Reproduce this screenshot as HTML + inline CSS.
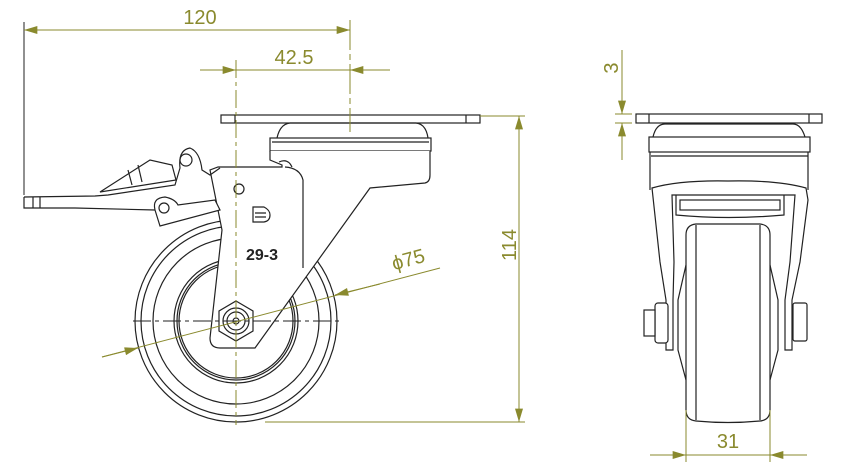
<!DOCTYPE html>
<html><head><meta charset="utf-8"><style>
html,body{margin:0;padding:0;background:#fff;}
svg{display:block;}
text{font-family:"Liberation Sans",sans-serif;fill:#8a8a2e;}
</style></head><body>
<svg width="858" height="470" viewBox="0 0 858 470" xmlns="http://www.w3.org/2000/svg">
<defs>
<marker id="a" viewBox="0 0 10 6" refX="10" refY="3" markerWidth="16" markerHeight="8" orient="auto-start-reverse" markerUnits="userSpaceOnUse"><path d="M0,0 L10,3 L0,6 z" fill="#8a8a2e"/></marker>
</defs>
<g stroke="#222" stroke-width="1.2" fill="none">
<!-- LEFT VIEW -->
<rect x="221" y="115" width="259" height="8"/>
<line x1="235" y1="115" x2="235" y2="123"/><line x1="466" y1="115" x2="466" y2="123"/>
<path d="M277,138 Q280,124 290,123 L416,123 Q426,124 428,138"/>
<rect x="270" y="138" width="161" height="13"/>
<line x1="272" y1="142" x2="429" y2="142"/>
<!-- wheel -->
<circle cx="236" cy="321" r="101"/>
<circle cx="236" cy="321" r="95"/>
<circle cx="236" cy="321" r="83"/>
<circle cx="236" cy="321" r="62"/>
<circle cx="236" cy="321" r="59"/>
<circle cx="236" cy="321" r="57"/>
<!-- bracket -->
<path d="M270,151 L270,160 L282,165 L282,167 L218,167 L210,170 L222,230 L210,338 Q210,348 220,348 L255,348 L370,188 L425,183 Q430,182 430,175 L430,151" fill="#fff"/>
<path d="M285,167 Q300,168 303,180 L303,268"/>
<path d="M279,162 Q288,158 292,167"/>
<!-- hex nut -->
<polygon points="236,301 253,311 253,331 236,341 219,331 219,311" fill="#fff"/>
<circle cx="236" cy="321" r="13"/>
<circle cx="236" cy="321" r="9"/>
<circle cx="236" cy="321" r="3"/>
<circle cx="239" cy="189" r="5"/>
<!-- brake -->
<path d="M24,197 L95,196 L108,195 L175,185 L180,168 Q178,150 190,148 Q200,152 202,170 L210,175 L220,168"/>
<path d="M24,197 L24,208 L75,208 L155,210"/>
<line x1="33" y1="197" x2="33" y2="208"/><line x1="40" y1="197" x2="40" y2="208"/>
<path d="M100,192 L150,160 L172,165 L176,180 Z" fill="#fff"/>
<line x1="128" y1="170" x2="132" y2="185"/><line x1="138" y1="165" x2="142" y2="182"/>
<circle cx="186" cy="160" r="6"/>
<path d="M155,210 Q152,198 165,197 Q175,199 178,205 L215,200 L220,210 L160,226 Z" fill="#fff"/>
<circle cx="164" cy="208" r="5"/>
<!-- logo -->
<path d="M253,207 L264,207 Q270,210 270,215 Q270,221 264,222 L253,222 Z M255,213 L266,213 M255,217 L266,217"/>
<!-- RIGHT VIEW -->
<rect x="636" y="114" width="186" height="9"/>
<line x1="649" y1="114" x2="649" y2="123"/><line x1="809" y1="114" x2="809" y2="123"/>
<path d="M653,137 Q656,124 665,124 L793,124 Q801,124 805,137"/>
<rect x="649" y="137" width="161" height="15"/>
<line x1="651" y1="156" x2="808" y2="156"/>
<line x1="650" y1="152" x2="650" y2="190"/><line x1="808" y1="152" x2="808" y2="190"/>
<path d="M652,188 Q680,180 728,181 Q778,180 806,188 L808,200 L800,262 L792,300 L792,350 L785,350 L785,300 L790,262 L795,195 L672,195 L674,262 L673,300 L673,350 L666,350 L666,300 L660,262 Z" fill="#fff"/>
<path d="M676,195 L676,215 Q728,220 784,215 L784,195"/>
<rect x="680" y="200" width="100" height="10"/>
<path d="M686,235 Q686,225 696,224 L760,224 Q770,225 770,235 L770,410 Q770,420 760,421 Q728,424 696,421 Q686,420 686,410 Z" fill="#fff"/>
<line x1="696" y1="225" x2="696" y2="420"/><line x1="760" y1="225" x2="760" y2="420"/>
<path d="M686,265 L678,300 L678,350 L686,380"/><path d="M770,265 L778,300 L778,350 L770,380"/>
<rect x="655" y="303" width="13" height="40" rx="3" fill="#fff"/>
<rect x="644" y="310" width="11" height="26" fill="#fff"/>
<rect x="793" y="303" width="14" height="38" rx="2" fill="#fff"/>
</g>
<!-- centerlines -->
<g stroke="#8a8a2e" stroke-width="1" fill="none">
<line x1="236" y1="60" x2="236" y2="425" stroke-dasharray="18,4,4,4"/>
<line x1="350" y1="20" x2="350" y2="132" stroke-dasharray="30,4,6,4"/>
<line x1="133" y1="321" x2="340" y2="321" stroke="#222" stroke-dasharray="18,4,4,4"/>
<!-- 120 -->
<line x1="24" y1="22" x2="24" y2="195" stroke="#222"/>
<line x1="24" y1="30" x2="350" y2="30" marker-start="url(#a)" marker-end="url(#a)"/>
<!-- 42.5 -->
<line x1="200" y1="70" x2="236" y2="70" marker-end="url(#a)"/>
<line x1="390" y1="70" x2="350" y2="70" marker-end="url(#a)"/>
<line x1="236" y1="70" x2="350" y2="70"/>
<!-- 114 -->
<line x1="480" y1="116" x2="525" y2="116"/>
<line x1="265" y1="422" x2="525" y2="422"/>
<line x1="519" y1="116" x2="519" y2="422" marker-start="url(#a)" marker-end="url(#a)"/>
<!-- 75 -->
<line x1="102" y1="357" x2="440" y2="268"/>
<line x1="102" y1="357" x2="138" y2="348" marker-end="url(#a)"/>
<line x1="380" y1="284" x2="335" y2="295" marker-end="url(#a)"/>
<!-- 3 -->
<line x1="622" y1="50" x2="622" y2="114" marker-end="url(#a)"/>
<line x1="622" y1="160" x2="622" y2="123" marker-end="url(#a)"/>
<line x1="615" y1="114" x2="632" y2="114"/><line x1="615" y1="123" x2="632" y2="123"/>
<!-- 31 -->
<line x1="686" y1="410" x2="686" y2="462"/><line x1="770" y1="410" x2="770" y2="462"/>
<line x1="650" y1="455" x2="686" y2="455" marker-end="url(#a)"/>
<line x1="807" y1="455" x2="770" y2="455" marker-end="url(#a)"/>
<line x1="686" y1="455" x2="770" y2="455"/>
</g>
<g stroke="none">
<text x="200" y="24" font-size="20" text-anchor="middle">120</text>
<text x="294" y="64" font-size="20" text-anchor="middle">42.5</text>
<text transform="translate(516,245) rotate(-90)" font-size="20" text-anchor="middle">114</text>
<text transform="translate(410,266) rotate(-15)" font-size="20" text-anchor="middle">ϕ75</text>
<text transform="translate(618,68) rotate(-90)" font-size="20" text-anchor="middle">3</text>
<text x="728" y="448" font-size="20" text-anchor="middle">31</text>
<text x="262" y="260" font-size="16" font-weight="bold" text-anchor="middle" style="fill:#222">29-3</text>
</g>
</svg>
</body></html>
